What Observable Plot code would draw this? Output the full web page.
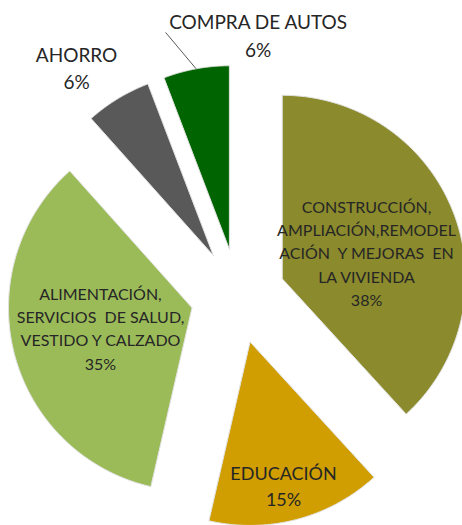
<!DOCTYPE html>
<html><head><meta charset="utf-8">
<script src="https://cdn.jsdelivr.net/npm/d3@7"></script>
<script src="https://cdn.jsdelivr.net/npm/@observablehq/plot@0.6"></script>
<style>
body{margin:0;background:#fff;}
#chart svg{display:block;}
</style>
</head><body><div id="chart"></div>
<script>
// ---- data ----
const categories = [
  "CONSTRUCCIÓN, AMPLIACIÓN, REMODELACIÓN Y MEJORAS EN LA VIVIENDA",
  "EDUCACIÓN",
  "ALIMENTACIÓN, SERVICIOS DE SALUD, VESTIDO Y CALZADO",
  "AHORRO",
  "COMPRA DE AUTOS"
];
const shares = [38.2, 15.4, 34.8, 5.8, 5.8];
const labelTexts = [
  "CONSTRUCCIÓN,\nAMPLIACIÓN,REMODEL\nACIÓN  Y MEJORAS  EN\nLA VIVIENDA",
  "EDUCACIÓN",
  "ALIMENTACIÓN,\nSERVICIOS  DE SALUD,\nVESTIDO Y CALZADO",
  "AHORRO",
  "COMPRA DE AUTOS"
];
const colors = ["#8b8a2c", "#d09e00", "#9bbb59", "#595959", "#006400"];

// ---- layout (not data) ----
const explode = 47.5 / 183.5;
const labelLayout = [
  {r: 0.482, a: 72.3,  size: 16},
  {r: 0.798, a: 166.8, size: 18},
  {r: 0.510, a: 257.9, size: 16},
  {r: 1.271, a: 324.1, size: 19},
  {r: 1.184, a: 7.6,   size: 19}
];
const rad = d => d * Math.PI / 180;
const toXY = (a, r) => [Math.sin(a) * r, Math.cos(a) * r];

const arcs = d3.pie().sort(null).value(d => d)(shares);

const slicePts = [];
const labels = [];
const leader = [];
arcs.forEach((p, i) => {
  const name = categories[i];
  const mid = (p.startAngle + p.endAngle) / 2;
  const [ox, oy] = toXY(mid, explode);
  slicePts.push({name, x: ox, y: oy});
  const n = 120;
  for (let k = 0; k <= n; k++) {
    const a = p.startAngle + (p.endAngle - p.startAngle) * k / n;
    const [x, y] = toXY(a, 1);
    slicePts.push({name, x: ox + x, y: oy + y});
  }
  slicePts.push({name, x: ox, y: oy});
  const L = labelLayout[i];
  const [lx, ly] = toXY(rad(L.a), L.r);
  labels.push({name, x: ox + lx, y: oy + ly, text: labelTexts[i] + "\n" + Math.round(shares[i]) + "%", size: L.size});
  if (i === 4) {
    const [sx, sy] = toXY(rad(343.6), 1.232);
    const [ex, ey] = toXY(mid, 1.0);
    leader.push({x1: ox + sx, y1: oy + sy, x2: ox + ex, y2: oy + ey});
  }
});

const pxPerUnit = 183.5, cx = 237.5, cy = 295.5, W = 462, H = 525;

const chart = Plot.plot({
  width: W, height: H, margin: 0,
  style: {background: "#fff", fontFamily: "Lato, 'Open Sans', sans-serif"},
  x: {domain: [-cx / pxPerUnit, (W - cx) / pxPerUnit], range: [0, W], axis: null},
  y: {domain: [-(H - cy) / pxPerUnit, cy / pxPerUnit], range: [H, 0], axis: null},
  color: {domain: categories, range: colors},
  marks: [
    Plot.line(slicePts, {x: "x", y: "y", z: "name", fill: "name", stroke: "#e2e2e2", strokeWidth: 1}),
    Plot.link(leader, {x1: "x1", y1: "y1", x2: "x2", y2: "y2", stroke: "#595959", strokeWidth: 1}),
    ...[16, 18, 19].map(s => Plot.text(labels.filter(d => d.size === s), {
      x: "x", y: "y", text: "text", fontSize: s, lineHeight: 1.45, fill: "#262626", textAnchor: "middle"
    }))
  ]
});
document.getElementById("chart").appendChild(chart);
</script>
</body></html>
